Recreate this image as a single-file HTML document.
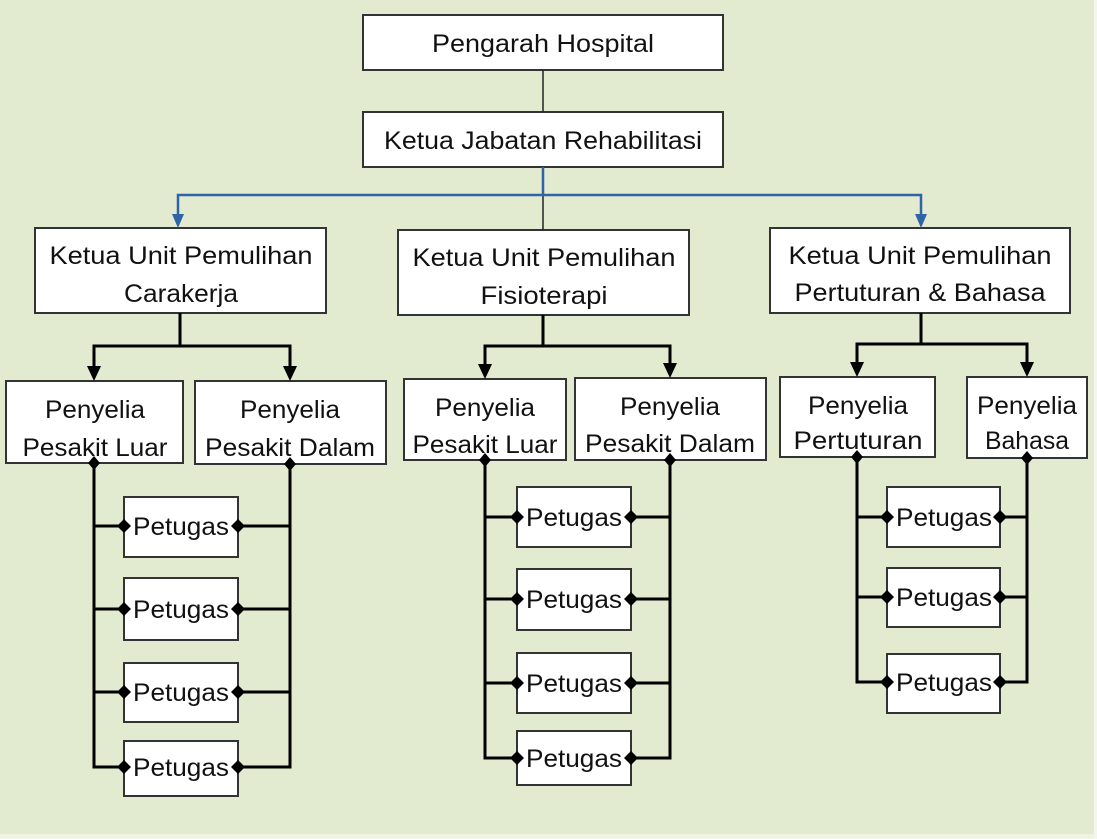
<!DOCTYPE html>
<html><head><meta charset="utf-8"><style>
html,body{margin:0;padding:0;background:#e2ead0;}
svg{display:block;}
text{font-family:"Liberation Sans",sans-serif;font-size:25px;fill:#111;text-anchor:middle;}
.p{font-size:25px;}
</style></head><body>
<svg width="1097" height="839" viewBox="0 0 1097 839" xmlns="http://www.w3.org/2000/svg">
<rect x="0" y="0" width="1097" height="839" fill="#e2ead0"/>
<rect x="0" y="834" width="1097" height="5" fill="#eef3e2"/>
<rect x="1094" y="0" width="3" height="839" fill="#f3f6ec"/>

<g fill="#fff" stroke="#333" stroke-width="2">
<rect x="363" y="15" width="360" height="55"/>
<rect x="363" y="112" width="360" height="55"/>
<rect x="35" y="228" width="291" height="85"/>
<rect x="398" y="230" width="291" height="85"/>
<rect x="770" y="228" width="300" height="85"/>
<rect x="6" y="381" width="177" height="82"/>
<rect x="195" y="381" width="191" height="83"/>
<rect x="404" y="379" width="162" height="81"/>
<rect x="575" y="378" width="191" height="82"/>
<rect x="780" y="377" width="155" height="80"/>
<rect x="967" y="377" width="120" height="81"/>
<rect x="124" y="497" width="114" height="60"/>
<rect x="124" y="578" width="114" height="62"/>
<rect x="124" y="663" width="114" height="59"/>
<rect x="124" y="741" width="114" height="55"/>
<rect x="517" y="487" width="114" height="60"/>
<rect x="517" y="569" width="114" height="61"/>
<rect x="517" y="653" width="114" height="60"/>
<rect x="517" y="731" width="114" height="54"/>
<rect x="887" y="487" width="113" height="60"/>
<rect x="887" y="568" width="113" height="59"/>
<rect x="887" y="654" width="113" height="59"/>
</g>

<g fill="none" stroke="#222" stroke-width="1.5">
<line x1="543" y1="70" x2="543" y2="112"/>
<line x1="543" y1="195" x2="543" y2="230"/>
</g>
<g fill="none" stroke="#2e64a8" stroke-width="2.5">
<line x1="543" y1="167" x2="543" y2="195"/>
<polyline points="178,218 178,195 921,195 921,218"/>
</g>
<g fill="#2e64a8">
<polygon points="172,214 184,214 178,228"/>
<polygon points="915,214 927,214 921,228"/>
</g>

<g fill="none" stroke="#000" stroke-width="3">
<line x1="180" y1="313" x2="180" y2="346"/>
<polyline points="94,368 94,346 290,346 290,368"/>
<line x1="543" y1="315" x2="543" y2="346"/>
<polyline points="485,366 485,346 670,346 670,366"/>
<line x1="921" y1="313" x2="921" y2="344"/>
<polyline points="857,364 857,344 1027,344 1027,364"/>
</g>
<g fill="#000">
<polygon points="87,366 101,366 94,381"/><polygon points="283,366 297,366 290,381"/>
<polygon points="478,364 492,364 485,379"/><polygon points="663,363 677,363 670,378"/>
<polygon points="850,362 864,362 857,377"/><polygon points="1020,362 1034,362 1027,377"/>
</g>

<g fill="none" stroke="#000" stroke-width="3">
<polyline points="94,463 94,767 124,767"/>
<polyline points="290,464 290,767 238,767"/>
<line x1="94" y1="526" x2="124" y2="526"/><line x1="238" y1="526" x2="290" y2="526"/>
<line x1="94" y1="609" x2="124" y2="609"/><line x1="238" y1="609" x2="290" y2="609"/>
<line x1="94" y1="692" x2="124" y2="692"/><line x1="238" y1="692" x2="290" y2="692"/>

<polyline points="485,460 485,758 517,758"/>
<polyline points="670,460 670,758 631,758"/>
<line x1="485" y1="517" x2="517" y2="517"/><line x1="631" y1="517" x2="670" y2="517"/>
<line x1="485" y1="599" x2="517" y2="599"/><line x1="631" y1="599" x2="670" y2="599"/>
<line x1="485" y1="683" x2="517" y2="683"/><line x1="631" y1="683" x2="670" y2="683"/>

<polyline points="857,457 857,682 887,682"/>
<polyline points="1027,458 1027,682 1000,682"/>
<line x1="857" y1="517" x2="887" y2="517"/><line x1="1000" y1="517" x2="1027" y2="517"/>
<line x1="857" y1="597" x2="887" y2="597"/><line x1="1000" y1="597" x2="1027" y2="597"/>
</g>
<g fill="#000">
<polygon points="94,456 100,463 94,470 88,463"/><polygon points="290,457 296,464 290,471 284,464"/>
<polygon points="485,453 491,460 485,467 479,460"/><polygon points="670,453 676,460 670,467 664,460"/>
<polygon points="857,450 863,457 857,464 851,457"/><polygon points="1027,451 1033,458 1027,465 1021,458"/>

<polygon points="124,519 131,526 124,533 117,526"/><polygon points="238,519 245,526 238,533 231,526"/>
<polygon points="124,602 131,609 124,616 117,609"/><polygon points="238,602 245,609 238,616 231,609"/>
<polygon points="124,685 131,692 124,699 117,692"/><polygon points="238,685 245,692 238,699 231,692"/>
<polygon points="124,760 131,767 124,774 117,767"/><polygon points="238,760 245,767 238,774 231,767"/>

<polygon points="517,510 524,517 517,524 510,517"/><polygon points="631,510 638,517 631,524 624,517"/>
<polygon points="517,592 524,599 517,606 510,599"/><polygon points="631,592 638,599 631,606 624,599"/>
<polygon points="517,676 524,683 517,690 510,683"/><polygon points="631,676 638,683 631,690 624,683"/>
<polygon points="517,751 524,758 517,765 510,758"/><polygon points="631,751 638,758 631,765 624,758"/>

<polygon points="887,510 894,517 887,524 880,517"/><polygon points="1000,510 1007,517 1000,524 993,517"/>
<polygon points="887,590 894,597 887,604 880,597"/><polygon points="1000,590 1007,597 1000,604 993,597"/>
<polygon points="887,675 894,682 887,689 880,682"/><polygon points="1000,675 1007,682 1000,689 993,682"/>
</g>

<text x="543" y="52" textLength="222" lengthAdjust="spacingAndGlyphs">Pengarah Hospital</text>
<text x="543" y="149" textLength="318" lengthAdjust="spacingAndGlyphs">Ketua Jabatan Rehabilitasi</text>
<text x="181" y="264" textLength="263" lengthAdjust="spacingAndGlyphs">Ketua Unit Pemulihan</text>
<text x="181" y="302" textLength="114" lengthAdjust="spacingAndGlyphs">Carakerja</text>
<text x="544" y="266" textLength="263" lengthAdjust="spacingAndGlyphs">Ketua Unit Pemulihan</text>
<text x="544" y="304" textLength="127" lengthAdjust="spacingAndGlyphs">Fisioterapi</text>
<text x="920" y="264" textLength="263" lengthAdjust="spacingAndGlyphs">Ketua Unit Pemulihan</text>
<text x="920" y="301" textLength="251" lengthAdjust="spacingAndGlyphs">Pertuturan &amp; Bahasa</text>

<text x="95" y="418" textLength="100" lengthAdjust="spacingAndGlyphs">Penyelia</text>
<text x="95" y="456" textLength="145" lengthAdjust="spacingAndGlyphs">Pesakit Luar</text>
<text x="290" y="418" textLength="100" lengthAdjust="spacingAndGlyphs">Penyelia</text>
<text x="290" y="456" textLength="170" lengthAdjust="spacingAndGlyphs">Pesakit Dalam</text>
<text x="485" y="416" textLength="100" lengthAdjust="spacingAndGlyphs">Penyelia</text>
<text x="485" y="453" textLength="145" lengthAdjust="spacingAndGlyphs">Pesakit Luar</text>
<text x="670" y="415" textLength="100" lengthAdjust="spacingAndGlyphs">Penyelia</text>
<text x="670" y="452" textLength="170" lengthAdjust="spacingAndGlyphs">Pesakit Dalam</text>
<text x="858" y="414" textLength="100" lengthAdjust="spacingAndGlyphs">Penyelia</text>
<text x="858" y="449" textLength="129" lengthAdjust="spacingAndGlyphs">Pertuturan</text>
<text x="1027" y="414" textLength="100" lengthAdjust="spacingAndGlyphs">Penyelia</text>
<text x="1027" y="449" textLength="84" lengthAdjust="spacingAndGlyphs">Bahasa</text>

<text class="p" x="181" y="535" textLength="96" lengthAdjust="spacingAndGlyphs">Petugas</text>
<text class="p" x="181" y="618" textLength="96" lengthAdjust="spacingAndGlyphs">Petugas</text>
<text class="p" x="181" y="701" textLength="96" lengthAdjust="spacingAndGlyphs">Petugas</text>
<text class="p" x="181" y="776" textLength="96" lengthAdjust="spacingAndGlyphs">Petugas</text>
<text class="p" x="574" y="526" textLength="96" lengthAdjust="spacingAndGlyphs">Petugas</text>
<text class="p" x="574" y="608" textLength="96" lengthAdjust="spacingAndGlyphs">Petugas</text>
<text class="p" x="574" y="692" textLength="96" lengthAdjust="spacingAndGlyphs">Petugas</text>
<text class="p" x="574" y="767" textLength="96" lengthAdjust="spacingAndGlyphs">Petugas</text>
<text class="p" x="944" y="526" textLength="96" lengthAdjust="spacingAndGlyphs">Petugas</text>
<text class="p" x="944" y="606" textLength="96" lengthAdjust="spacingAndGlyphs">Petugas</text>
<text class="p" x="944" y="691" textLength="96" lengthAdjust="spacingAndGlyphs">Petugas</text>
</svg>
</body></html>
